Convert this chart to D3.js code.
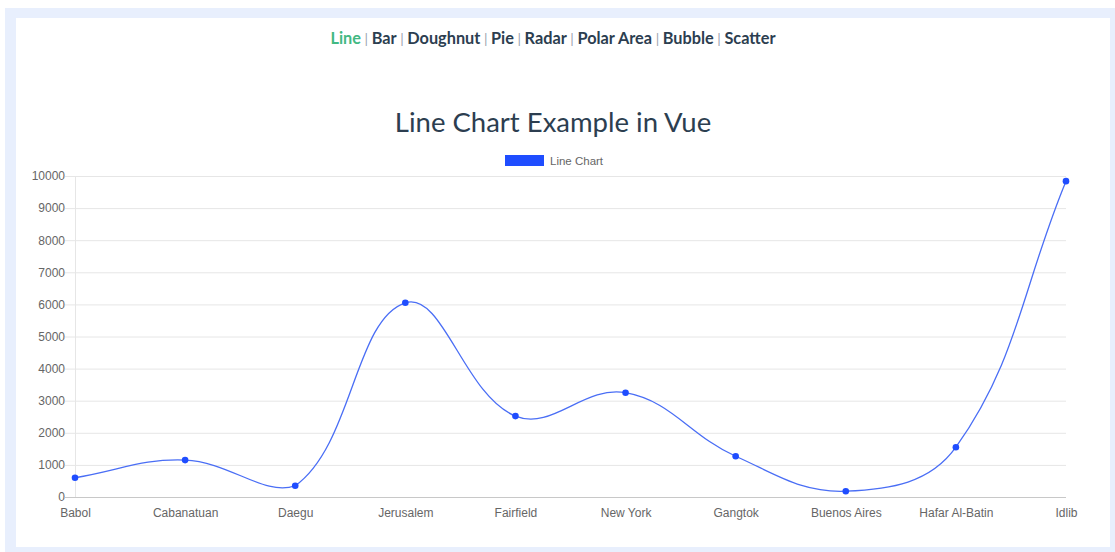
<!DOCTYPE html>
<html>
<head>
<meta charset="utf-8">
<script src="https://cdn.jsdelivr.net/npm/d3@7"></script>
<style>
  html, body { margin: 0; padding: 0; background: #fff; }
  svg { display: block; }
</style>
</head>
<body>
<div id="container"></div>
<script>
var navItems = ["Line", "Bar", "Doughnut", "Pie", "Radar", "Polar Area", "Bubble", "Scatter"];
var cities = ["Babol", "Cabanatuan", "Daegu", "Jerusalem", "Fairfield", "New York", "Gangtok", "Buenos Aires", "Hafar Al-Batin", "Idlib"];
var values = [600, 1150, 350, 6050, 2520, 3250, 1270, 180, 1550, 9840];
var yTicks = [0, 1000, 2000, 3000, 4000, 5000, 6000, 7000, 8000, 9000, 10000];

let width = 1115;
let height = 552;
var svg = d3.select("#container").append("svg");
svg.attr("width", width).attr("height", height);

// page frame
svg.append("rect").attr("x", 5).attr("y", 8).attr("width", width - 5).attr("height", height - 8).attr("fill", "#e8effd");
svg.append("rect").attr("x", 16).attr("y", 18).attr("width", 1094).attr("height", 529).attr("fill", "#fff");

// nav links
var nav = svg.append("text")
  .attr("x", 553).attr("y", 44)
  .attr("text-anchor", "middle")
  .style("font-family", "Lato, 'Open Sans', sans-serif")
  .style("font-size", "16.3px");
navItems.forEach(function(d, i) {
  if (i > 0) {
    nav.append("tspan").text(" | ").attr("fill", "#9aa3ad").style("font-weight", 400).style("font-size", "14px");
  }
  nav.append("tspan").text(d)
    .attr("fill", i == 0 ? "#42b983" : "#2c3e50")
    .style("font-weight", 700);
});

// title
svg.append("text")
  .attr("x", 553).attr("y", 132)
  .attr("text-anchor", "middle")
  .attr("fill", "#2c3e50")
  .style("font-family", "Lato, 'Open Sans', sans-serif")
  .style("font-size", "27.5px")
  .text("Line Chart Example in Vue");

var font = "'Liberation Sans', Helvetica, Arial, sans-serif";

// legend
svg.append("rect").attr("x", 505).attr("y", 155).attr("width", 39).attr("height", 11).attr("fill", "#1f4dff");
svg.append("text")
  .attr("x", 550).attr("y", 165)
  .attr("fill", "#666")
  .style("font-family", font)
  .style("font-size", "11.5px")
  .text("Line Chart");

var x = d3.scalePoint().domain(cities).range([75, 1066]);
var y = d3.scaleLinear().domain([0, 10000]).range([497, 176]);

// y grid + axis
var yAxis = d3.axisLeft(y).tickValues(yTicks).tickFormat(d3.format("d")).tickSize(0).tickPadding(10);
var gy = svg.append("g").attr("transform", "translate(75,0)").call(yAxis);
gy.select(".domain").attr("stroke", "#e6e6e6");
gy.selectAll("text").attr("fill", "#666").style("font-family", font).style("font-size", "12px");

svg.append("g").selectAll("line")
  .data(yTicks).enter().append("line")
  .attr("x1", 65).attr("x2", 1066)
  .attr("y1", function(d) { return y(d) + 0.5; })
  .attr("y2", function(d) { return y(d) + 0.5; })
  .attr("stroke", function(d) { return d == 0 ? "#c8c8c8" : "#e6e6e6"; })
  .attr("stroke-width", 1);

// x labels
var xAxis = d3.axisBottom(x).tickSize(0).tickPadding(11);
var gx = svg.append("g").attr("transform", "translate(0,497)").call(xAxis);
gx.select(".domain").remove();
gx.selectAll("text").attr("fill", "#666").style("font-family", font).style("font-size", "12px");

// chart.js style spline (tension 0.4)
var pts = values.map(function(v, i) { return { x: x(cities[i]), y: y(v) }; });
var tension = 0.4;
pts.forEach(function(p, i) {
  var prev = pts[i - 1] || p, next = pts[i + 1] || p;
  var d01 = Math.hypot(p.x - prev.x, p.y - prev.y);
  var d12 = Math.hypot(next.x - p.x, next.y - p.y);
  var s01 = d01 / (d01 + d12), s12 = d12 / (d01 + d12);
  if (isNaN(s01)) s01 = 0;
  if (isNaN(s12)) s12 = 0;
  var fa = tension * s01, fb = tension * s12;
  p.cpPrev = { x: p.x - fa * (next.x - prev.x), y: p.y - fa * (next.y - prev.y) };
  p.cpNext = { x: p.x + fb * (next.x - prev.x), y: p.y + fb * (next.y - prev.y) };
  [p.cpPrev, p.cpNext].forEach(function(c) {
    c.x = Math.max(75, Math.min(1066, c.x));
    c.y = Math.max(176, Math.min(497, c.y));
  });
});
var path = d3.path();
path.moveTo(pts[0].x, pts[0].y);
for (var i = 1; i < pts.length; i++) {
  path.bezierCurveTo(pts[i - 1].cpNext.x, pts[i - 1].cpNext.y, pts[i].cpPrev.x, pts[i].cpPrev.y, pts[i].x, pts[i].y);
}
svg.append("path")
  .attr("d", path.toString())
  .attr("fill", "none")
  .attr("stroke", "#4a6ef5")
  .attr("stroke-width", 1.3);

svg.append("g").selectAll("circle")
  .data(pts).enter().append("circle")
  .attr("cx", function(d) { return d.x; })
  .attr("cy", function(d) { return d.y; })
  .attr("r", 3.3)
  .attr("fill", "#1f4dff");
</script>
</body>
</html>
